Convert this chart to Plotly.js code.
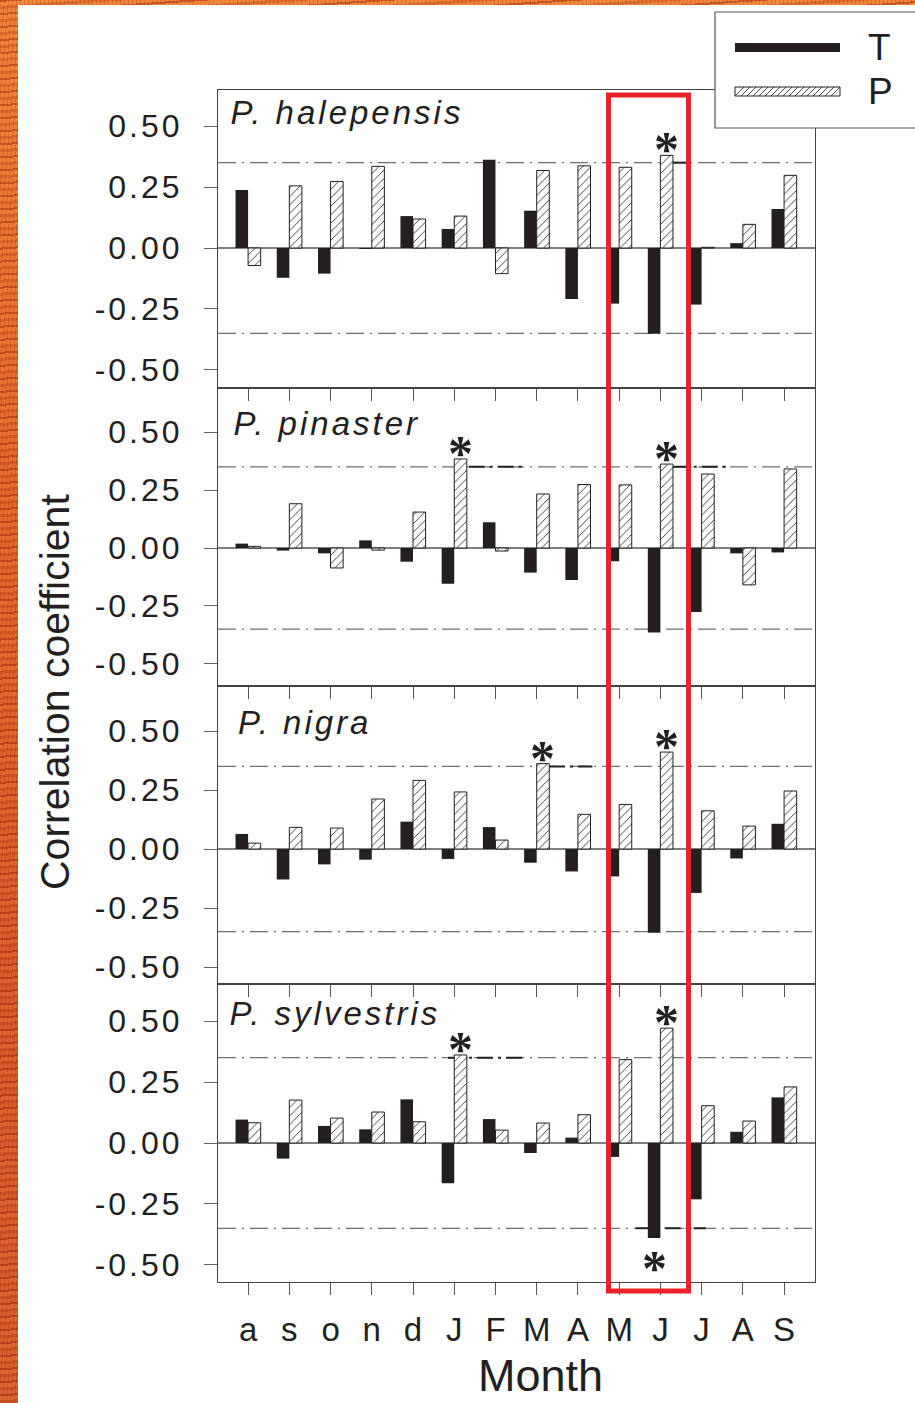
<!DOCTYPE html>
<html>
<head>
<meta charset="utf-8">
<script src="https://cdn.plot.ly/plotly-3.0.1.min.js"></script>
<style>
  html, body { margin: 0; padding: 0; }
  body {
    width: 915px; height: 1403px; overflow: hidden; position: relative;
    background:
      repeating-linear-gradient(176deg, rgba(150,35,10,0.45) 0 2px, rgba(255,140,60,0.25) 2px 6px, rgba(190,60,20,0.35) 6px 9px, rgba(240,120,50,0.2) 9px 13px),
      repeating-linear-gradient(95deg, rgba(120,30,10,0.25) 0 1px, rgba(0,0,0,0) 1px 4px),
      linear-gradient(180deg, #f0883a 0%, #e0662a 35%, #d4542a 70%, #cf5a2c 100%);
  }
  #white { position: absolute; left: 18px; top: 5px; width: 897px; height: 1398px; background: #ffffff; }
  #chart { position: absolute; left: 0; top: 0; width: 915px; height: 1403px; }
  #chart .ytick text, #chart .y2tick text, #chart .y3tick text, #chart .y4tick text { letter-spacing: 3px; }
  #chart g.annotation[data-index="0"] text,
  #chart g.annotation[data-index="1"] text,
  #chart g.annotation[data-index="2"] text,
  #chart g.annotation[data-index="3"] text { letter-spacing: 3px; }
</style>
</head>
<body>
<div id="white"></div>
<div id="chart"></div>
<script>
// ---------------- DATA ----------------
const months = ['a','s','o','n','d','J','F','M','A','M','J','J','A','S'];
const species = ['P. halepensis','P. pinaster','P. nigra','P. sylvestris'];

const tHalepensis = [0.238,-0.122,-0.105,-0.004,0.131,0.078,0.362,0.153,-0.209,-0.228,-0.352,-0.232,0.020,0.160];
const pHalepensis = [-0.072,0.255,0.273,0.335,0.119,0.131,-0.105,0.318,0.337,0.331,0.380,0.003,0.097,0.298];

const tPinaster = [0.019,-0.011,-0.023,0.033,-0.059,-0.154,0.111,-0.106,-0.138,-0.057,-0.364,-0.276,-0.023,-0.019];
const pPinaster = [0.007,0.191,-0.086,-0.009,0.155,0.384,-0.013,0.233,0.274,0.272,0.362,0.319,-0.159,0.341];

const tNigra = [0.064,-0.129,-0.065,-0.045,0.116,-0.042,0.093,-0.058,-0.095,-0.116,-0.355,-0.186,-0.040,0.107];
const pNigra = [0.025,0.092,0.089,0.212,0.291,0.242,0.038,0.362,0.147,0.189,0.411,0.162,0.097,0.246];

const tSylvestris = [0.096,-0.064,0.070,0.056,0.179,-0.165,0.098,-0.041,0.022,-0.057,-0.390,-0.231,0.046,0.187];
const pSylvestris = [0.083,0.176,0.102,0.127,0.087,0.361,0.053,0.082,0.116,0.342,0.471,0.153,0.090,0.230];

// indices of months marked significant (*)
const sigT = [[], [], [], [10]];
const sigP = [[10], [5, 10], [7, 10], [5, 10]];

const threshold = 0.35;
const yTickVals = [-0.5, -0.25, 0, 0.25, 0.5];
const yTickText = ['-0.50', '-0.25', '0.00', '0.25', '0.50'];
const seriesNames = ['T', 'P'];

const tSeries = [tHalepensis, tPinaster, tNigra, tSylvestris];
const pSeries = [pHalepensis, pPinaster, pNigra, pSylvestris];

// ---------------- LAYOUT HELPERS ----------------
const W = 915, H = 1403;
const L = 218, R = 815, T = 90, B = 1282;
const X = px => (px - L) / (R - L);
const Y = py => (B - py) / (B - T);

const ink = '#231f20';
const yRanges = [[-0.574, 0.648], [-0.595, 0.690], [-0.572, 0.691], [-0.570, 0.652]];
// left edge / vertical centre of species labels (px); letter-spacing expands text around its centre
const labelPos = [[228, 113], [231, 423], [236, 722], [227, 1014]];
const LETTER_SP = 3;
// short dark dash-dot remnants drawn on the threshold lines: [panel, x0, x1, sign]
const emphasis = [[0, 10.3, 10.75, 1], [1, 5.35, 6.65, 1], [1, 10.3, 11.7, 1],
                  [2, 7.3, 8.35, 1], [3, 4.85, 6.65, 1], [3, 9.4, 11.1, -1]];
const BARGAP = 0.39;
const half = (1 - BARGAP) / 4; // centre offset of each bar in a pair

const idx = months.map((m, i) => i);
const data = [];
const layout = {
  width: W, height: H,
  margin: {l: L, r: W - R, t: T, b: H - B, pad: 0},
  paper_bgcolor: 'rgba(0,0,0,0)', plot_bgcolor: 'rgba(0,0,0,0)',
  barmode: 'group', bargap: BARGAP, bargroupgap: 0,
  showlegend: false,
  font: {family: 'Liberation Sans, Arial, sans-serif', color: ink},
  shapes: [], annotations: []
};

const axName = p => (p === 0 ? '' : String(p + 1));

// species labels first (annotation indices 0..3)
for (let p = 0; p < 4; p++) {
  const shift = species[p].length * LETTER_SP / 2;
  layout.annotations.push({
    xref: 'paper', yref: 'paper', x: X(labelPos[p][0] + shift), y: Y(labelPos[p][1]),
    xanchor: 'left', yanchor: 'middle', showarrow: false,
    text: '<i>' + species[p] + '</i>',
    font: {family: 'Liberation Sans, Arial, sans-serif', size: 33, color: ink}
  });
}

for (let p = 0; p < 4; p++) {
  const s = axName(p);
  const xa = 'x' + s, ya = 'y' + s;
  data.push({
    type: 'bar', name: seriesNames[0], x: idx, y: tSeries[p], xaxis: xa, yaxis: ya,
    marker: {color: ink, line: {width: 0}}
  });
  data.push({
    type: 'bar', name: seriesNames[1], x: idx, y: pSeries[p], xaxis: xa, yaxis: ya,
    marker: {color: 'white', line: {color: ink, width: 1},
      pattern: {shape: '/', fgcolor: ink, bgcolor: 'white', size: 6, solidity: 0.14}}
  });
  layout['xaxis' + s] = {
    anchor: ya, domain: [0, 1], range: [-0.73, 13.75],
    tickmode: 'array', tickvals: idx, ticktext: months,
    showticklabels: p === 3, ticks: 'outside', ticklen: 12, tickwidth: 1, tickcolor: '#555',
    showline: true, mirror: true, linecolor: '#444', linewidth: 1,
    showgrid: false, zeroline: false, ticklabelstandoff: 6,
    tickfont: {family: 'Liberation Sans, Arial, sans-serif', size: 33, color: ink}
  };
  layout['yaxis' + s] = {
    anchor: xa, domain: [(3 - p) * 0.25, (4 - p) * 0.25], range: yRanges[p],
    tickmode: 'array', tickvals: yTickVals, ticktext: yTickText,
    ticks: 'outside', ticklen: 13, tickwidth: 1, tickcolor: '#666',
    showline: true, mirror: true, linecolor: '#444', linewidth: 1,
    showgrid: false, zeroline: true, zerolinecolor: '#7f7f7f', zerolinewidth: 1.5,
    ticklabelstandoff: 15,
    tickfont: {family: 'Liberation Sans, Arial, sans-serif', size: 32, color: ink}
  };
  // significance threshold lines
  [threshold, -threshold].forEach(v => layout.shapes.push({
    type: 'line', xref: xa + ' domain', yref: ya, x0: 0, x1: 1, y0: v, y1: v, layer: 'below',
    line: {color: '#6f6f6f', width: 1.2, dash: '18px,6px,2px,6px'}
  }));
  // asterisks
  sigP[p].forEach(i => layout.annotations.push({
    xref: xa, yref: ya, x: i + half, y: pSeries[p][i], yshift: 6,
    xanchor: 'center', yanchor: 'middle', showarrow: false, text: '*',
    font: {family: 'Liberation Serif, serif', size: 50, color: ink, weight: 'bold'}
  }));
  sigT[p].forEach(i => layout.annotations.push({
    xref: xa, yref: ya, x: i - half, y: tSeries[p][i], yshift: -30,
    xanchor: 'center', yanchor: 'middle', showarrow: false, text: '*',
    font: {family: 'Liberation Serif, serif', size: 50, color: ink, weight: 'bold'}
  }));
}

// dark remnant dashes on threshold lines
emphasis.forEach(([p, x0, x1, sg]) => {
  const s = axName(p);
  layout.shapes.push({
    type: 'line', xref: 'x' + s, yref: 'y' + s, x0: x0, x1: x1, y0: sg * threshold, y1: sg * threshold,
    layer: 'below', line: {color: ink, width: 2, dash: '16px,5px,3px,5px'}
  });
});

// highlight rectangle (M-J)
layout.shapes.push({
  type: 'rect', xref: 'paper', yref: 'paper', layer: 'above',
  x0: X(608.5), x1: X(688.5), y0: Y(1291), y1: Y(95),
  line: {color: '#ec2227', width: 5}, fillcolor: 'rgba(0,0,0,0)'
});

// legend box (cut by the right edge)
layout.shapes.push({
  type: 'rect', xref: 'paper', yref: 'paper', layer: 'above',
  x0: X(715), x1: X(940), y0: Y(128), y1: Y(12),
  line: {color: '#555', width: 1.2}, fillcolor: 'white'
});
layout.shapes.push({
  type: 'rect', xref: 'paper', yref: 'paper', layer: 'above',
  x0: X(735), x1: X(840), y0: Y(52), y1: Y(43),
  line: {width: 0}, fillcolor: ink
});
layout.shapes.push({
  type: 'rect', xref: 'paper', yref: 'paper', layer: 'above',
  x0: X(735), x1: X(840), y0: Y(96), y1: Y(87),
  line: {color: ink, width: 1}, fillcolor: 'white'
});
let hatch = '';
for (let x = 735; x + 9 <= 840; x += 6) {
  hatch += `M${X(x)},${Y(96)} L${X(x + 9)},${Y(87)} `;
}
layout.shapes.push({
  type: 'path', xref: 'paper', yref: 'paper', layer: 'above', path: hatch,
  line: {color: ink, width: 0.8}
});
[['T', 47], ['P', 91]].forEach(([t, py], k) => layout.annotations.push({
  xref: 'paper', yref: 'paper', x: X(866), y: Y(py), xanchor: 'left', yanchor: 'middle',
  showarrow: false, text: seriesNames[k],
  font: {family: 'Liberation Sans, Arial, sans-serif', size: 37, color: ink}
}));

// axis titles
layout.annotations.push({
  xref: 'paper', yref: 'paper', x: X(55), y: Y(692), xanchor: 'center', yanchor: 'middle',
  textangle: -90, showarrow: false, text: 'Correlation coefficient',
  font: {family: 'Liberation Sans, Arial, sans-serif', size: 41, color: ink}
});
layout.annotations.push({
  xref: 'paper', yref: 'paper', x: X(540), y: Y(1403), xanchor: 'center', yanchor: 'bottom',
  showarrow: false, text: 'Month',
  font: {family: 'Liberation Sans, Arial, sans-serif', size: 45, color: ink}
});

Plotly.newPlot('chart', data, layout, {staticPlot: true, displayModeBar: false});
</script>
</body>
</html>
